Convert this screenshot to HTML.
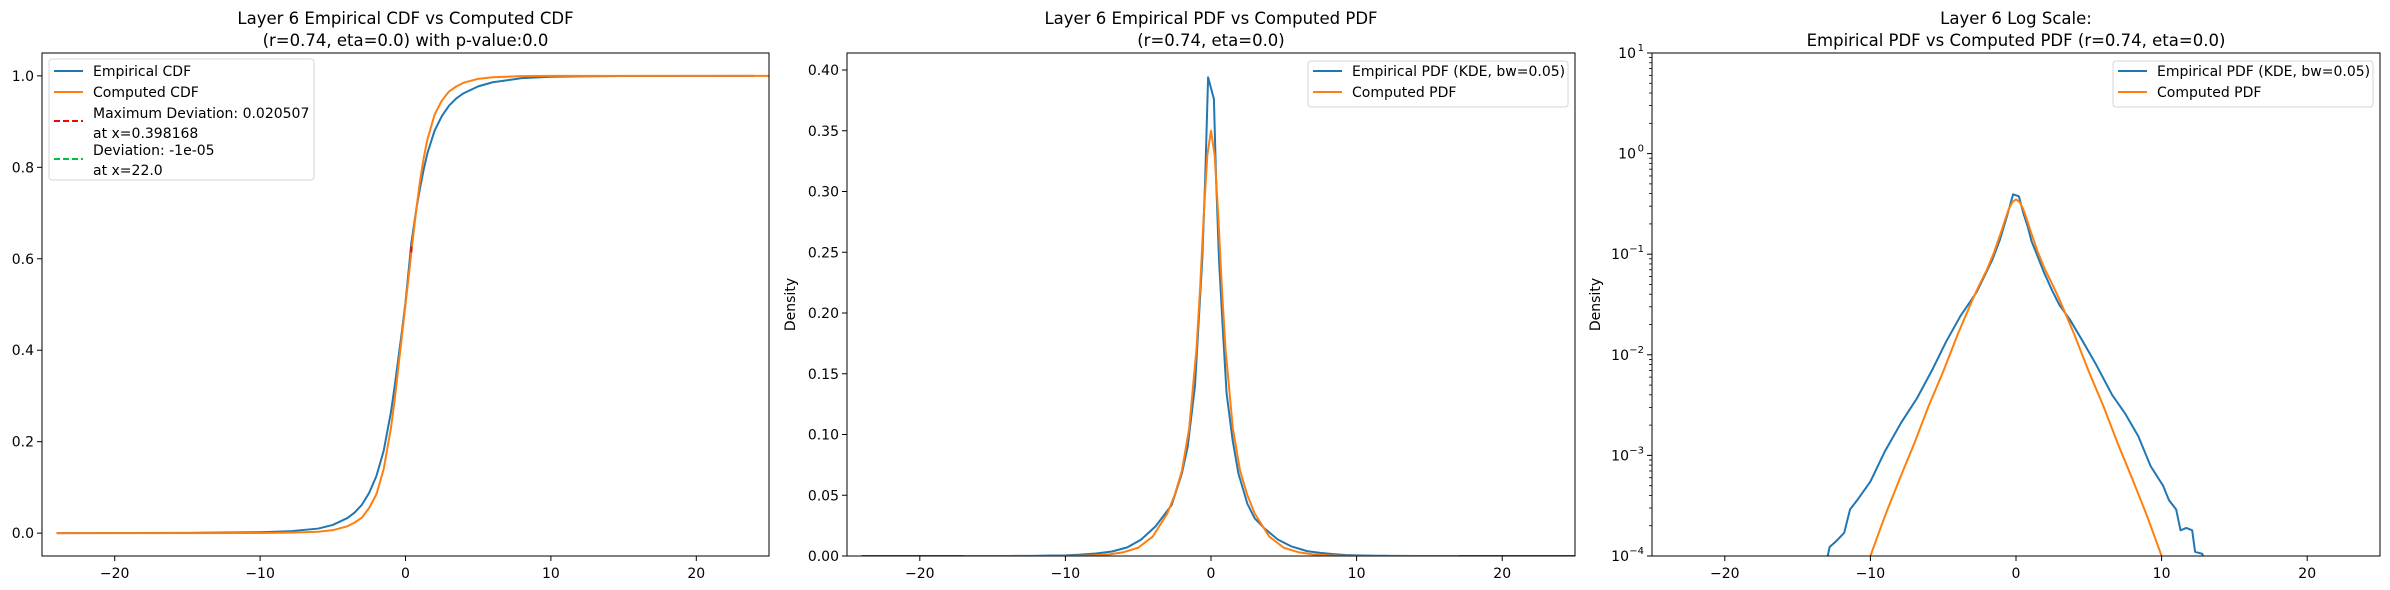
<!DOCTYPE html>
<html><head><meta charset="utf-8">
<style>
html,body{margin:0;padding:0;background:#fff;width:2390px;height:590px;overflow:hidden;}
svg{display:block;font-family:"DejaVu Sans","Liberation Sans",sans-serif;}
</style></head>
<body>
<svg id="fig" width="2390" height="590" viewBox="0 0 2390 590" xmlns="http://www.w3.org/2000/svg"></svg>
<script>
// ---- data ----
const xTicks = [-20, -10, 0, 10, 20];
const cdfYTicks = [0.0, 0.2, 0.4, 0.6, 0.8, 1.0];
const pdfYTicks = [0.00, 0.05, 0.10, 0.15, 0.20, 0.25, 0.30, 0.35, 0.40];
const logYTicks = [-4, -3, -2, -1, 0, 1];

const empCdfX = [-24, -15, -10, -8, -6, -5, -4, -3.5, -3, -2.5, -2, -1.5, -1, -0.75, -0.5, -0.25, 0, 0.25, 0.4, 0.75, 1, 1.25, 1.5, 2, 2.5, 3, 3.5, 4, 5, 6, 8, 10, 12, 15, 24];
const empCdfY = [0, 0.0005, 0.002, 0.004, 0.01, 0.018, 0.033, 0.045, 0.062, 0.088, 0.125, 0.18, 0.265, 0.32, 0.38, 0.44, 0.505, 0.585, 0.634, 0.71, 0.755, 0.795, 0.83, 0.88, 0.912, 0.935, 0.951, 0.962, 0.977, 0.986, 0.995, 0.998, 0.999, 0.9998, 1.0];
const compCdfX = [-24, -15, -10, -8, -6, -5, -4, -3.5, -3, -2.5, -2, -1.5, -1, -0.75, -0.5, -0.25, 0, 0.25, 0.4, 0.75, 1, 1.25, 1.5, 2, 2.5, 3, 3.5, 4, 5, 6, 8, 10, 15, 25];
const compCdfY = [0, 0.00001, 0.0003, 0.001, 0.003, 0.0065, 0.015, 0.023, 0.034, 0.055, 0.085, 0.14, 0.23, 0.29, 0.36, 0.43, 0.5, 0.57, 0.614, 0.71, 0.77, 0.82, 0.86, 0.915, 0.946, 0.966, 0.977, 0.985, 0.9935, 0.997, 0.9995, 0.9999, 1.0, 1.0];
const maxDevX = 0.398168;
const maxDevLo = 0.614;
const maxDevHi = 0.634;

const empPdfX = [-24, -18, -14, -13, -12.8, -12.4, -11.8, -11.4, -10.9, -10, -9, -7.9, -6.8, -5.75, -4.8, -3.8, -2.7, -2, -1.6, -1.1, -0.6, -0.4, -0.2, 0.2, 0.35, 0.55, 0.8, 1.07, 1.49, 1.88, 2.5, 3.0, 3.7, 4.6, 5.5, 6.6, 7.5, 8.4, 9.25, 10.1, 10.5, 11, 11.3, 11.7, 12.1, 12.3, 12.8, 12.9, 14, 18, 25];
const empPdfY = [0.0000001, 0.000001, 0.00001, 0.00009, 0.000123, 0.000138, 0.00017, 0.00029, 0.00036, 0.00055, 0.0011, 0.0021, 0.0037, 0.0071, 0.0135, 0.0245, 0.042, 0.068, 0.09, 0.14, 0.244, 0.31, 0.394, 0.376, 0.31, 0.244, 0.189, 0.134, 0.095, 0.068, 0.043, 0.031, 0.0224, 0.0135, 0.008, 0.004, 0.0026, 0.00155, 0.00078, 0.0005, 0.00036, 0.00029, 0.00018, 0.00019, 0.00018, 0.00011, 0.000105, 0.00009, 0.00001, 0.000001, 0.0000001];
const compPdfX = [-17, -14, -11, -10, -9, -8, -7, -6, -5, -4, -3, -2.5, -2, -1.5, -1, -0.75, -0.5, -0.25, 0, 0.25, 0.5, 0.75, 1, 1.5, 2, 2.5, 3, 4, 5, 6, 7, 8, 9, 10, 11, 14, 17];
const compPdfY = [0.0000002, 0.000002, 0.000045, 0.0001, 0.00025, 0.00058, 0.0013, 0.0031, 0.0068, 0.016, 0.035, 0.05, 0.07, 0.105, 0.17, 0.22, 0.28, 0.33, 0.35, 0.33, 0.28, 0.22, 0.17, 0.105, 0.07, 0.05, 0.035, 0.016, 0.0068, 0.0031, 0.0013, 0.00058, 0.00025, 0.0001, 0.000045, 0.000002, 0.0000002];
</script>
<script>
const NS = "http://www.w3.org/2000/svg";
const svg = document.getElementById('fig');
const BLUE = "#1f77b4", ORANGE = "#ff7f0e";
function mk(tag, attrs, parent) {
  const e = document.createElementNS(NS, tag);
  for (const k in attrs) e.setAttribute(k, attrs[k]);
  (parent || svg).appendChild(e);
  return e;
}
const TOP = 53, BOT = 556;
const panels = [
  {L: 42, R: 769, name: 'cdf'},
  {L: 847, R: 1575, name: 'pdf'},
  {L: 1652, R: 2380, name: 'logpdf'}
];
function xs(p, v) { return p.L + (v + 25) / 50 * (p.R - p.L); }
function fmt(v) { return (v < 0 ? "\u2212" : "") + Math.abs(v); }

panels.forEach((p, i) => {
  const g = mk('g', {});
  
  
  const cp = mk('clipPath', {id: 'clip' + i}, g);
  mk('rect', {x: p.L, y: TOP, width: p.R - p.L, height: BOT - TOP}, cp);
  p.g = g;
  xTicks.forEach(t => {
    const x = xs(p, t);
    const tk = mk('line', {x1: x, x2: x, y1: BOT, y2: BOT + 5, stroke: '#000', 'stroke-width': 1}, g);
    
    
    const tx = mk('text', {x: x, y: BOT + 22, 'font-size': 14, 'text-anchor': 'middle', fill: '#000'}, g);
    
    
    tx.textContent = fmt(t);
  });
});

function line(p, xsArr, ysArr, yf, color, name, clipId) {
  let d = '';
  xsArr.forEach((v, k) => { d += (k ? 'L' : 'M') + xs(p, v).toFixed(2) + ' ' + yf(ysArr[k]).toFixed(2); });
  const e = mk('path', {d: d, fill: 'none', stroke: color, 'stroke-width': 2, 'stroke-linejoin': 'round', 'clip-path': 'url(#' + clipId + ')'}, p.g);
  
  
  return e;
}
function title(p, lines) {
  const cx = (p.L + p.R) / 2;
  lines.forEach((s, k) => {
    const t = mk('text', {x: cx, y: 24 + k * 22, 'font-size': 16.5, 'text-anchor': 'middle', fill: '#000'}, p.g);
    
    
    t.textContent = s;
  });
}
function ylabel(x, p) {
  const t = mk('text', {x: x, y: (TOP + BOT) / 2, 'font-size': 14, 'text-anchor': 'middle', fill: '#000', transform: 'rotate(-90 ' + x + ' ' + (TOP + BOT) / 2 + ')'}, p.g);
  
  
  t.textContent = 'Density';
}
function ytick(p, y, label, sup) {
  const tk = mk('line', {x1: p.L - 5, x2: p.L, y1: y, y2: y, stroke: '#000', 'stroke-width': 1}, p.g);
  
  
  const t = mk('text', {x: p.L - 8, y: y + 5, 'font-size': 14, 'text-anchor': 'end', fill: '#000'}, p.g);
  
  
  if (sup !== undefined) {
    t.setAttribute('x', p.L - 8 - (sup.length > 1 ? 15 : 8));
    t.textContent = label;
    const s = mk('text', {x: p.L - 8, y: y - 2, 'font-size': 10, 'text-anchor': 'end', fill: '#000'}, p.g);
    
    
    s.textContent = sup;
  } else t.textContent = label;
}
function legend(p, x, y, w, h, entries) {
  const lg = mk('g', {}, p.g);
  
  
  mk('rect', {x: x, y: y, width: w, height: h, rx: 3, fill: '#fff', 'fill-opacity': 0.8, stroke: '#d6d6d6', 'stroke-width': 1}, lg);
  entries.forEach(en => {
    const ln = mk('line', {x1: x + 5, x2: x + 34, y1: en.ly, y2: en.ly, stroke: en.color, 'stroke-width': 2, 'stroke-dasharray': en.dash || 'none'}, lg);
    
    
    en.text.forEach((s, k) => {
      const t = mk('text', {x: x + 44, y: en.ty + k * 20, 'font-size': 14, fill: '#000'}, lg);
      
      
      t.textContent = s;
    });
  });
}

// ---- panel 1: CDF ----
const p1 = panels[0];
const y1 = v => BOT - (v + 0.05) / 1.1 * (BOT - TOP);
cdfYTicks.forEach(t => ytick(p1, y1(t), t.toFixed(1)));
line(p1, empCdfX, empCdfY, y1, BLUE, 'empirical-cdf-line', 'clip0');
line(p1, compCdfX, compCdfY, y1, ORANGE, 'computed-cdf-line', 'clip0');
const md = mk('line', {x1: xs(p1, maxDevX), x2: xs(p1, maxDevX), y1: y1(maxDevLo), y2: y1(maxDevHi), stroke: '#ff0000', 'stroke-width': 2, 'stroke-dasharray': '6 3'}, p1.g);


title(p1, ['Layer 6 Empirical CDF vs Computed CDF', '(r=0.74, eta=0.0) with p-value:0.0']);
legend(p1, 49, 59, 265, 121, [
  {color: BLUE, ly: 71, ty: 76, text: ['Empirical CDF']},
  {color: ORANGE, ly: 92, ty: 97, text: ['Computed CDF']},
  {color: '#ff0000', dash: '6 3', ly: 121, ty: 118, text: ['Maximum Deviation: 0.020507', 'at x=0.398168']},
  {color: '#00c040', dash: '6 3', ly: 159, ty: 155, text: ['Deviation: -1e-05', 'at x=22.0']}
]);

// ---- panel 2: PDF ----
const p2 = panels[1];
const y2 = v => BOT - v / 0.414 * (BOT - TOP);
pdfYTicks.forEach(t => ytick(p2, y2(t), t.toFixed(2)));
line(p2, empPdfX, empPdfY, y2, BLUE, 'empirical-pdf-line', 'clip1');
line(p2, compPdfX, compPdfY, y2, ORANGE, 'computed-pdf-line', 'clip1');
title(p2, ['Layer 6 Empirical PDF vs Computed PDF', '(r=0.74, eta=0.0)']);
ylabel(795, p2);
legend(p2, 1308, 61, 260, 46, [
  {color: BLUE, ly: 71, ty: 76, text: ['Empirical PDF (KDE, bw=0.05)']},
  {color: ORANGE, ly: 92, ty: 97, text: ['Computed PDF']}
]);

// ---- panel 3: log PDF ----
const p3 = panels[2];
const y3 = v => BOT - (Math.log10(Math.max(v, 1e-12)) + 4) / 5 * (BOT - TOP);
logYTicks.forEach(t => ytick(p3, y3(Math.pow(10, t)), '10', t < 0 ? '\u2212' + (-t) : String(t)));
for (let d = -4; d < 1; d++) {
  for (let m = 2; m <= 9; m++) {
    const yy = y3(m * Math.pow(10, d));
    const mt = mk('line', {x1: p3.L - 3, x2: p3.L, y1: yy, y2: yy, stroke: '#000', 'stroke-width': 0.8}, p3.g);
    
    
  }
}
line(p3, empPdfX, empPdfY, y3, BLUE, 'empirical-pdf-log-line', 'clip2');
line(p3, compPdfX, compPdfY, y3, ORANGE, 'computed-pdf-log-line', 'clip2');
title(p3, ['Layer 6 Log Scale:', 'Empirical PDF vs Computed PDF (r=0.74, eta=0.0)']);
ylabel(1600, p3);
legend(p3, 2113, 61, 260, 46, [
  {color: BLUE, ly: 71, ty: 76, text: ['Empirical PDF (KDE, bw=0.05)']},
  {color: ORANGE, ly: 92, ty: 97, text: ['Computed PDF']}
]);

panels.forEach(p => {
  const f = mk('rect', {x: p.L, y: TOP, width: p.R - p.L, height: BOT - TOP, fill: 'none', stroke: '#000', 'stroke-width': 1}, p.g);
  
  
});
</script>
</body></html>
